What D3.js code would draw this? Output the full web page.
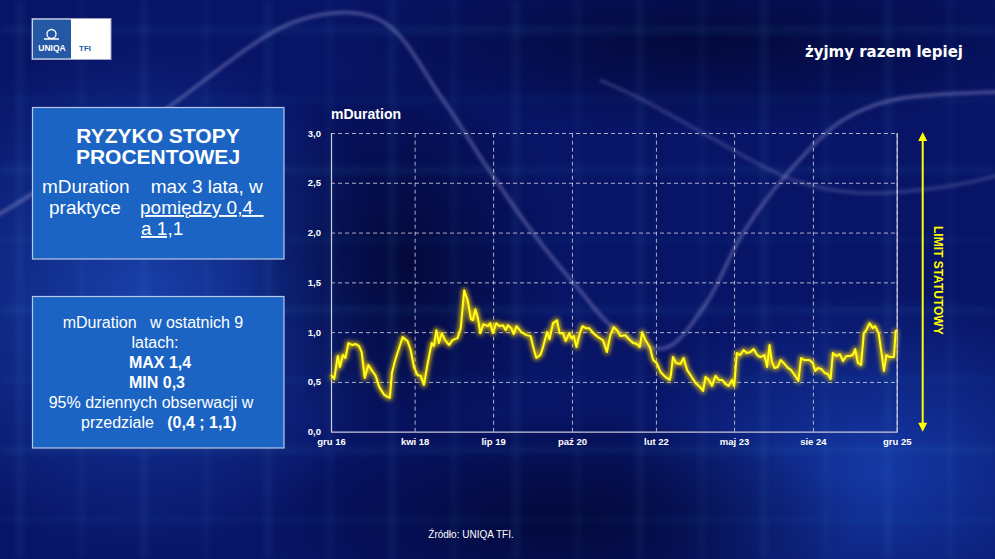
<!DOCTYPE html>
<html>
<head>
<meta charset="utf-8">
<script src="https://cdn.jsdelivr.net/npm/d3@7"></script>
<style>
  body { margin: 0; background: #06105a; }
  svg { display: block; }
  text { font-family: "Liberation Sans", Arial, sans-serif; }
</style>
</head>
<body>
<div id="chart"></div>
<script>
var obsDates = ["2016-12-01","2016-12-20","2017-01-09","2017-01-22","2017-02-08","2017-02-23","2017-03-12","2017-04-05","2017-04-24","2017-05-13","2017-05-28","2017-06-15","2017-07-06","2017-07-29","2017-08-18","2017-09-07","2017-10-06","2017-10-25","2017-11-08","2017-11-20","2017-12-09","2017-12-28","2018-01-21","2018-02-19","2018-03-09","2018-03-28","2018-04-17","2018-05-06","2018-05-25","2018-06-14","2018-07-09","2018-07-22","2018-08-05","2018-08-20","2018-09-06","2018-09-25","2018-10-18","2018-11-07","2018-12-06","2018-12-25","2019-01-14","2019-02-03","2019-02-22","2019-03-05","2019-03-20","2019-04-04","2019-04-17","2019-05-06","2019-06-01","2019-06-14","2019-06-30","2019-07-19","2019-08-08","2019-08-27","2019-09-12","2019-09-25","2019-10-15","2019-10-28","2019-11-14","2019-12-12","2020-01-11","2020-02-04","2020-02-19","2020-03-08","2020-04-01","2020-04-16","2020-05-09","2020-05-24","2020-06-13","2020-07-06","2020-07-21","2020-08-10","2020-08-26","2020-09-15","2020-09-28","2020-10-12","2020-10-27","2020-11-16","2020-12-01","2020-12-20","2021-01-09","2021-02-02","2021-03-01","2021-03-30","2021-04-22","2021-05-12","2021-06-01","2021-06-20","2021-07-09","2021-08-08","2021-08-27","2021-09-22","2021-10-14","2021-10-30","2021-11-13","2021-12-02","2021-12-27","2022-01-16","2022-02-05","2022-02-28","2022-03-27","2022-04-22","2022-04-29","2022-05-11","2022-05-30","2022-06-23","2022-07-12","2022-08-01","2022-08-24","2022-09-19","2022-10-14","2022-11-02","2022-11-16","2022-12-05","2022-12-24","2023-01-13","2023-02-02","2023-02-21","2023-03-11","2023-03-30","2023-04-19","2023-05-02","2023-05-17","2023-06-06","2023-06-25","2023-07-14","2023-08-04","2023-08-23","2023-09-12","2023-10-01","2023-10-24","2023-11-09","2023-11-23","2023-12-06","2023-12-21","2024-01-10","2024-01-26","2024-02-14","2024-03-08","2024-03-27","2024-04-20","2024-05-09","2024-05-24","2024-06-13","2024-07-12","2024-08-01","2024-08-14","2024-08-30","2024-09-19","2024-10-08","2024-10-27","2024-11-12","2024-11-25","2024-12-15","2025-01-04","2025-01-23","2025-02-12","2025-03-01","2025-03-21","2025-04-04","2025-04-19","2025-05-08","2025-05-24","2025-06-07","2025-06-26","2025-07-15","2025-07-29","2025-08-18","2025-09-03","2025-09-18","2025-10-02","2025-10-21","2025-11-15","2025-11-25","2025-12-03"];

var mDuration = [0.57,0.53,0.76,0.65,0.77,0.74,0.89,0.87,0.88,0.86,0.80,0.54,0.67,0.61,0.56,0.45,0.37,0.35,0.34,0.59,0.72,0.82,0.95,0.91,0.82,0.65,0.57,0.56,0.47,0.67,0.89,0.86,1.02,0.89,0.99,0.92,0.87,0.92,0.94,1.04,1.42,1.32,1.13,1.12,1.23,1.14,0.99,1.08,1.06,1.09,0.99,1.09,1.06,1.07,1.02,1.07,1.04,0.98,1.06,1.00,0.97,0.96,0.85,0.74,0.77,0.85,1.00,0.93,1.09,1.12,0.99,0.99,0.91,0.99,0.94,0.96,0.85,0.99,1.06,1.04,1.04,0.99,0.95,0.92,0.80,0.97,1.05,1.02,0.96,0.97,0.93,0.89,0.88,0.85,1.00,0.92,0.85,0.72,0.69,0.60,0.55,0.52,0.57,0.75,0.69,0.68,0.74,0.62,0.56,0.49,0.45,0.41,0.55,0.52,0.46,0.56,0.52,0.52,0.48,0.46,0.52,0.46,0.79,0.77,0.82,0.79,0.80,0.83,0.77,0.75,0.77,0.65,0.87,0.71,0.64,0.65,0.72,0.69,0.64,0.62,0.56,0.51,0.74,0.72,0.72,0.69,0.61,0.64,0.63,0.59,0.58,0.53,0.79,0.76,0.78,0.71,0.76,0.76,0.77,0.83,0.69,0.67,0.99,1.02,1.09,1.04,1.06,0.99,0.80,0.61,0.77,0.75,0.75,1.01,1.02];

var xTickDates = ["2016-12-01","2018-04-01","2019-07-01","2020-10-01","2022-02-01","2023-05-01","2024-08-01","2025-12-01"];
var xTickLabels = ["gru 16","kwi 18","lip 19","paź 20","lut 22","maj 23","sie 24","gru 25"];
var yTicks = [0, 0.5, 1.0, 1.5, 2.0, 2.5, 3.0];

// decorative background wave (not data)
var bgWave = [[-10,220],[150,120],[300,20],[380,20],[443,100],[487,167],[533,233],[577,287],[620,333],[665,348],[705,305],[743,233],[793,167],[843,120],[893,100],[1000,92]];
var bgWave2 = [[600,80],[643,100],[710,137],[793,180],[860,193],[943,187],[1000,175]];

var W = 995, H = 559;
var parse = d3.timeParse("%Y-%m-%d");
var data = obsDates.map(function (d, i) { return {date: parse(d), value: mDuration[i]}; });

var svg = d3.select("#chart").append("svg")
  .attr("width", W)
  .attr("height", H);

var defs = svg.append("defs");

// background gradients
function radial(id, stops) {
  var g = defs.append("radialGradient").attr("id", id);
  stops.forEach(function (s) {
    g.append("stop").attr("offset", s[0]).attr("stop-color", s[1]).attr("stop-opacity", s[2]);
  });
}
radial("glowL", [["0%", "#1e4fc0", 0.75], ["100%", "#1e4fc0", 0]]);
radial("glowR", [["0%", "#1a48c0", 0.7], ["100%", "#1a48c0", 0]]);
radial("dark", [["0%", "#020630", 0.8], ["100%", "#020630", 0]]);

var blur = defs.append("filter").attr("id", "blurBg").attr("x", "-20%").attr("y", "-20%").attr("width", "140%").attr("height", "140%");
blur.append("feGaussianBlur").attr("stdDeviation", 3);

var soft = defs.append("filter").attr("id", "soft");
soft.append("feGaussianBlur").attr("stdDeviation", 1.5);

var glow = defs.append("filter").attr("id", "glow").attr("x", "-5%").attr("y", "-20%").attr("width", "110%").attr("height", "140%");
glow.append("feGaussianBlur").attr("stdDeviation", 2);

svg.append("rect").attr("width", W).attr("height", H).attr("fill", "#081466");
svg.append("ellipse").attr("cx", 140).attr("cy", 300).attr("rx", 260).attr("ry", 260).attr("fill", "url(#glowL)");
svg.append("ellipse").attr("cx", 880).attr("cy", 470).attr("rx", 260).attr("ry", 180).attr("fill", "url(#glowR)");
svg.append("ellipse").attr("cx", 560).attr("cy", 520).attr("rx", 300).attr("ry", 110).attr("fill", "url(#dark)");
svg.append("ellipse").attr("cx", 700).attr("cy", 40).attr("rx", 380).attr("ry", 90).attr("fill", "url(#dark)");
svg.append("ellipse").attr("cx", 400).attr("cy", 260).attr("rx", 160).attr("ry", 200).attr("fill", "url(#dark)");

// faint blurred grid texture
var tex = svg.append("g").attr("filter", "url(#blurBg)").attr("stroke", "#3fa0d8").attr("fill", "none");
d3.range(20, W, 62).forEach(function (x, i) {
  tex.append("line").attr("x1", x).attr("x2", x).attr("y1", 0).attr("y2", H)
    .attr("stroke-width", i % 2 ? 3 : 5).attr("stroke-opacity", 0.12);
});
d3.range(30, H, 70).forEach(function (y, i) {
  tex.append("line").attr("x1", 0).attr("x2", W).attr("y1", y).attr("y2", y)
    .attr("stroke-width", i % 2 ? 3 : 6).attr("stroke-opacity", 0.1);
});

var waveLine = d3.line().curve(d3.curveCatmullRom);
svg.append("path").attr("d", waveLine(bgWave))
  .attr("fill", "none").attr("stroke", "#a9a4dc").attr("stroke-opacity", 0.35)
  .attr("stroke-width", 4).attr("filter", "url(#soft)");
svg.append("path").attr("d", waveLine(bgWave2))
  .attr("fill", "none").attr("stroke", "#a9a4dc").attr("stroke-opacity", 0.22)
  .attr("stroke-width", 4).attr("filter", "url(#soft)");

// logo
var logo = svg.append("g");
logo.append("rect").attr("x", 32).attr("y", 18.5).attr("width", 79).attr("height", 41)
  .attr("fill", "#ffffff").attr("stroke", "#9aa6c4").attr("stroke-width", 1);
logo.append("rect").attr("x", 33).attr("y", 19.5).attr("width", 38).attr("height", 39).attr("fill", "#2458a4");
logo.append("path").attr("d", "M47,34 a4.5,4.5 0 1,1 9,0 a4.5,4.5 0 1,1 -9,0 M44,39 h15")
  .attr("fill", "none").attr("stroke", "#ffffff").attr("stroke-width", 1.3);
logo.append("text").attr("x", 52).attr("y", 51).attr("text-anchor", "middle")
  .attr("fill", "#ffffff").style("font-size", "8.5px").style("font-weight", "bold").text("UNIQA");
logo.append("text").attr("x", 79).attr("y", 51)
  .attr("fill", "#2458a4").style("font-size", "8px").style("font-weight", "bold").text("TFI");

svg.append("text").attr("x", 963).attr("y", 57).attr("text-anchor", "end")
  .attr("fill", "#ffffff").style("font-family", "'DejaVu Sans', sans-serif")
  .style("font-size", "15px").style("font-weight", "bold").text("żyjmy razem lepiej");

// left info boxes
function box(y0, h) {
  svg.append("rect").attr("x", 32.5).attr("y", y0).attr("width", 251.5).attr("height", h)
    .attr("fill", "#1b64c4").attr("stroke", "#b9c8e6").attr("stroke-width", 1.2);
}
box(107.5, 151.5);
box(296.5, 151.5);

var b1 = svg.append("text").attr("fill", "#ffffff").style("white-space", "pre");
b1.append("tspan").attr("x", 158).attr("y", 143).attr("text-anchor", "middle")
  .style("font-size", "21px").style("font-weight", "bold").text("RYZYKO STOPY");
b1.append("tspan").attr("x", 158).attr("y", 164).attr("text-anchor", "middle")
  .style("font-size", "21px").style("font-weight", "bold").text("PROCENTOWEJ");
b1.append("tspan").attr("x", 42).attr("y", 193).style("font-size", "19px").text("mDuration    max 3 lata, w");
b1.append("tspan").attr("x", 49).attr("y", 214).style("font-size", "19px").text("praktyce");
b1.append("tspan").attr("x", 140).attr("y", 214).style("font-size", "19px")
  .style("text-decoration", "underline").text("pomiędzy 0,4  ");
b1.append("tspan").attr("x", 141).attr("y", 235).style("font-size", "19px")
  .style("text-decoration", "underline").text("a 1,");
b1.append("tspan").style("font-size", "19px").text("1");

var b2 = svg.append("text").attr("fill", "#ffffff").attr("text-anchor", "middle")
  .style("font-size", "16px").style("white-space", "pre");
b2.append("tspan").attr("x", 153).attr("y", 328).text("mDuration   w ostatnich 9");
b2.append("tspan").attr("x", 155).attr("y", 348).text("latach:");
b2.append("tspan").attr("x", 160).attr("y", 368).style("font-weight", "bold").text("MAX 1,4");
b2.append("tspan").attr("x", 157).attr("y", 388).style("font-weight", "bold").text("MIN 0,3");
b2.append("tspan").attr("x", 151).attr("y", 408).text("95% dziennych obserwacji w");
var last = svg.append("text").attr("x", 81).attr("y", 428).attr("fill", "#ffffff")
  .style("font-size", "16px").style("white-space", "pre");
last.append("tspan").text("przedziale   ");
last.append("tspan").style("font-weight", "bold").text("(0,4 ; 1,1)");

// chart
var x = d3.scaleTime()
  .domain([parse("2016-12-01"), parse("2025-12-01")])
  .range([331, 896.7]);
var y = d3.scaleLinear()
  .domain([0, 3])
  .range([431.7, 133]);

var plot = svg.append("g");

var gy = plot.append("g")
  .attr("transform", "translate(331,0)")
  .call(d3.axisLeft(y).tickValues(yTicks)
    .tickFormat(function (d) { return d.toFixed(1).replace(".", ","); })
    .tickSize(-(896.7 - 331)).tickPadding(10));
gy.select(".domain").remove();

var gx = plot.append("g")
  .attr("transform", "translate(0,431.7)")
  .call(d3.axisBottom(x).tickValues(xTickDates.map(parse))
    .tickFormat(function (d, i) { return xTickLabels[i]; })
    .tickSize(-(431.7 - 133)).tickPadding(7));
gx.select(".domain").attr("stroke", "#c9c9dc").attr("stroke-width", 1.2);

plot.selectAll(".tick line")
  .attr("stroke", "#d4d4e4").attr("stroke-opacity", 0.8)
  .attr("stroke-dasharray", "4,3");
gy.selectAll(".tick").filter(function (d) { return d === 0; }).select("line").remove();
plot.selectAll(".tick text")
  .attr("fill", "#ffffff").style("font-size", "9.5px").style("font-weight", "bold");

plot.append("text").attr("x", 331).attr("y", 119)
  .attr("fill", "#ffffff").style("font-size", "14px").style("font-weight", "bold").text("mDuration");

var line = d3.line()
  .x(function (d) { return x(d.date); })
  .y(function (d) { return y(d.value); });

plot.append("path").datum(data).attr("d", line)
  .attr("fill", "none").attr("stroke", "#ffd400").attr("stroke-opacity", 0.75)
  .attr("stroke-width", 5).attr("stroke-linejoin", "round").attr("filter", "url(#glow)");
plot.append("path").datum(data).attr("d", line)
  .attr("fill", "none").attr("stroke", "#ffff1a")
  .attr("stroke-width", 2).attr("stroke-linejoin", "round");

// statutory limit arrow
var ax = 922.7;
var arrow = svg.append("g").attr("fill", "#ffff00").attr("stroke", "#ffff00");
arrow.append("line").attr("x1", ax).attr("x2", ax).attr("y1", y(3) + 6).attr("y2", y(0) - 6).attr("stroke-width", 2);
arrow.append("path").attr("stroke", "none")
  .attr("d", "M" + ax + "," + (y(3) - 1) + " l-4.5,9 h9 z");
arrow.append("path").attr("stroke", "none")
  .attr("d", "M" + ax + "," + (y(0) + 0) + " l-4.5,-9 h9 z");
svg.append("text")
  .attr("transform", "translate(933.5," + (y(1.5) - 2) + ") rotate(90)")
  .attr("text-anchor", "middle").attr("fill", "#ffff00")
  .style("font-size", "12px").style("font-weight", "bold").text("LIMIT STATUTOWY");

svg.append("text").attr("x", 471).attr("y", 538).attr("text-anchor", "middle")
  .attr("fill", "#ffffff").style("font-size", "10px").text("Źródło: UNIQA TFI.");
</script>
</body>
</html>
